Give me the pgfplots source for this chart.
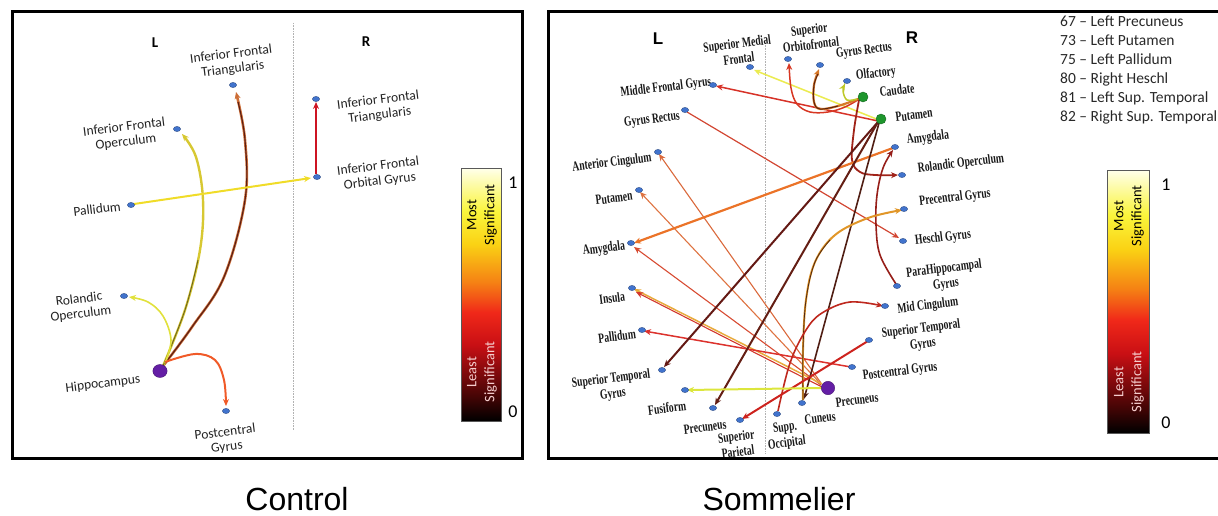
\documentclass[border=0pt]{standalone}
\usepackage{fontspec}
\setmainfont{Carlito}
\newfontfamily\tnr{Liberation Serif}
\newfontfamily\arial{Liberation Sans}
\usepackage{pgfplots}
\pgfplotsset{compat=1.18}
\usetikzlibrary{arrows.meta}
\definecolor{nb}{RGB}{65,115,205}
\definecolor{pur}{RGB}{100,30,165}
\definecolor{grn}{RGB}{30,150,45}
\newcommand{\edge}[3]{\addplot[no marks, smooth, tension=0.6, color={#1}, line width=#2, -{Stealth[length=7pt,width=6pt]}] coordinates {#3};}
\begin{document}
\begin{tikzpicture}
\begin{axis}[at={(0,0)},anchor=south west,width=1218pt,height=516pt,scale only axis,
  xmin=0,xmax=1218,ymin=0,ymax=516,y dir=reverse,hide axis,clip=false,
  colormap={sig}{rgb255(0cm)=(0,0,0); rgb255(1cm)=(70,5,5); rgb255(3cm)=(200,15,20); rgb255(4.3cm)=(240,40,25); rgb255(5.5cm)=(245,130,20); rgb255(7cm)=(250,210,20); rgb255(8.3cm)=(250,245,60); rgb255(10cm)=(255,255,235)},
  point meta min=0, point meta max=1]

% ---------------- colour bars
\addplot[surf, shader=interp, mesh/cols=2, point meta=explicit] coordinates {
(461,421) [0] (501,421) [0]
(461,395.7) [0.1] (501,395.7) [0.1]
(461,370.4) [0.2] (501,370.4) [0.2]
(461,345.1) [0.3] (501,345.1) [0.3]
(461,319.8) [0.4] (501,319.8) [0.4]
(461,294.5) [0.5] (501,294.5) [0.5]
(461,269.2) [0.6] (501,269.2) [0.6]
(461,243.9) [0.7] (501,243.9) [0.7]
(461,218.6) [0.8] (501,218.6) [0.8]
(461,193.3) [0.9] (501,193.3) [0.9]
(461,168) [1] (501,168) [1]
};
\addplot[surf, shader=interp, mesh/cols=2, point meta=explicit] coordinates {
(1107,433) [0] (1149,433) [0]
(1107,406.7) [0.1] (1149,406.7) [0.1]
(1107,380.4) [0.2] (1149,380.4) [0.2]
(1107,354.1) [0.3] (1149,354.1) [0.3]
(1107,327.8) [0.4] (1149,327.8) [0.4]
(1107,301.5) [0.5] (1149,301.5) [0.5]
(1107,275.2) [0.6] (1149,275.2) [0.6]
(1107,248.9) [0.7] (1149,248.9) [0.7]
(1107,222.6) [0.8] (1149,222.6) [0.8]
(1107,196.3) [0.9] (1149,196.3) [0.9]
(1107,170) [1] (1149,170) [1]
};
\draw[gray!70!black, line width=0.8pt] (axis cs:461,168) rectangle (axis cs:501,421);
\draw[gray!70!black, line width=0.8pt] (axis cs:1107,170) rectangle (axis cs:1149,433);
\node[rotate=90, align=center, font=\fontsize{14.5}{18}\selectfont] at (axis cs:482,215) {Most\\Significant};
\node[rotate=90, align=center, text={rgb,255:red,245;green,205;blue,205}, font=\fontsize{14.5}{18}\selectfont] at (axis cs:482,372) {Least\\Significant};
\node[rotate=90, align=center, font=\fontsize{14.5}{18}\selectfont] at (axis cs:1129,216) {Most\\Significant};
\node[rotate=90, align=center, text={rgb,255:red,245;green,205;blue,205}, font=\fontsize{14.5}{18}\selectfont] at (axis cs:1129,382) {Least\\Significant};
\node[font=\fontsize{18}{20}\selectfont] at (axis cs:513,183) {1};
\node[font=\fontsize{18}{20}\selectfont] at (axis cs:513,412) {0};
\node[font=\fontsize{18}{20}\selectfont] at (axis cs:1166,185) {1};
\node[font=\fontsize{18}{20}\selectfont] at (axis cs:1166,423) {0};

% ---------------- divider lines
\draw[gray!60, densely dotted, line width=0.6pt] (axis cs:293,23) -- (axis cs:293,430);
\draw[gray!60, densely dotted, line width=0.6pt] (axis cs:765,43) -- (axis cs:765,453);

% ---------------- Control edges
\edge{rgb,255:red,205;green,110;blue,55}{2.6pt}{(163,366) (192,327) (224,277) (245,200) (245,140) (236,92)}
\addplot[no marks, smooth, tension=0.6, color={rgb,255:red,90;green,30;blue,20}, line width=1.1pt] coordinates {(163,366) (192,327) (224,277) (245,200) (245,140) (238,102)};
\edge{rgb,255:red,215;green,200;blue,50}{2.4pt}{(163,366) (185,310) (200,250) (203,200) (196,157) (182,134)}
\addplot[no marks, smooth, tension=0.6, color={rgb,255:red,110;green,100;blue,30}, line width=0.9pt] coordinates {(163,366) (185,310) (198,260)};
\edge{rgb,255:red,225;green,225;blue,60}{1.6pt}{(165,363) (171,340) (163,316) (148,302) (129,297)}
\edge{rgb,255:red,240;green,90;blue,40}{2pt}{(165,362) (195,354) (215,360) (224,380) (226,406)}
\edge{rgb,255:red,240;green,220;blue,40}{2pt}{(134,204) (311,178)}
\edge{rgb,255:red,205;green,20;blue,35}{2.8pt}{(316,174) (316,102)}

% ---------------- Sommelier edges
\edge{rgb,255:red,218;green,105;blue,60}{1.1pt}{(821,383) (659,154)}
\edge{rgb,255:red,222;green,115;blue,65}{1.1pt}{(821,384) (640,192)}
\edge{rgb,255:red,215;green,75;blue,50}{1.1pt}{(821,385) (634,247)}
\edge{rgb,255:red,232;green,170;blue,60}{1.5pt}{(822,384) (634,289)}
\edge{rgb,255:red,210;green,55;blue,45}{1.1pt}{(822,387) (636,292)}
\edge{rgb,255:red,220;green,50;blue,45}{1.5pt}{(851,367) (644,331)}
\edge{rgb,255:red,210;green,70;blue,50}{1.2pt}{(687,112) (899,238)}
\edge{rgb,255:red,235;green,235;blue,80}{1.5pt}{(879,120) (754,70)}
\edge{rgb,255:red,215;green,50;blue,40}{1.5pt}{(878,121) (716,86)}
\edge{rgb,255:red,215;green,55;blue,35}{1.5pt}{(861,98) (845,107) (828,112) (810,112) (797,104) (791,88) (789,63)}
\edge{rgb,255:red,215;green,120;blue,40}{2.2pt}{(861,98) (838,106) (820,109) (814,102) (814,85) (819,69)}
\addplot[no marks, smooth, tension=0.6, color={rgb,255:red,90;green,35;blue,15}, line width=1pt] coordinates {(838,106) (820,109) (814,102) (814,85) (818,74)};
\edge{rgb,255:red,190;green,200;blue,40}{1.5pt}{(857,99) (847,100) (843,91) (845,84)}
\edge{rgb,255:red,160;green,35;blue,25}{1.8pt}{(859,100) (854,130) (852,160) (860,172) (875,175) (898,175)}
\edge{rgb,255:red,235;green,115;blue,40}{2.2pt}{(893,148) (634,243)}
\edge{rgb,255:red,150;green,30;blue,25}{1.6pt}{(896,284) (880,255) (876,225) (877,195) (883,168) (893,150)}
\edge{rgb,255:red,100;green,25;blue,20}{2pt}{(878,122) (664,367)}
\edge{rgb,255:red,100;green,30;blue,20}{2pt}{(878,122) (715,405)}
\edge{rgb,255:red,80;green,30;blue,20}{1.6pt}{(879,123) (804,399)}
\edge{rgb,255:red,225;green,150;blue,40}{2pt}{(803,400) (803,350) (806,300) (815,262) (835,235) (868,218) (902,210)}
\addplot[no marks, smooth, tension=0.6, color={rgb,255:red,80;green,40;blue,20}, line width=0.8pt] coordinates {(803,400) (803,350) (806,300) (815,262) (830,240)};
\edge{rgb,255:red,190;green,40;blue,30}{1.6pt}{(778,411) (790,363) (806,330) (822,313) (850,302) (883,306)}
\edge{rgb,255:red,205;green,35;blue,30}{2pt}{(868,341) (742,419)}
\edge{rgb,255:red,220;green,230;blue,60}{2pt}{(823,388) (687,390)}

% ---------------- nodes
\addplot[only marks, mark=*, mark size=2.6pt, mark options={xscale=1.4, fill=nb, draw=nb!60!black, line width=0.3pt}] coordinates {
(233,85) (177,129) (131,205) (124,296) (226,411) (316,99) (317,177)
(750,67) (713,85) (685,110) (658,152) (639,190) (631,243) (632,288) (642,330) (662,370) (685,390) (713,408) (740,420) (777,414) (802,403)
(788,59) (820,65) (847,81) (895,147) (902,175) (904,209) (903,241) (897,286) (885,306) (869,340) (852,367)};
\addplot[only marks, mark=*, mark size=6.5pt, mark options={xscale=1.1, fill=pur, draw=pur!70!black}] coordinates {(160,371)};
\addplot[only marks, mark=*, mark size=6.7pt, mark options={fill=pur, draw=pur!70!black}] coordinates {(828,388)};
\addplot[only marks, mark=*, mark size=5pt, mark options={fill=grn, draw=grn!70!black}] coordinates {(863,97) (881,119)};

% ---------------- Control labels
\begin{scope}[every node/.style={font=\fontsize{13.5}{15}\selectfont, align=center, text={rgb,255:red,35;green,35;blue,35}, rotate=7, inner sep=1pt}]
\node at (axis cs:232,62) {Inferior Frontal\\Triangularis};
\node at (axis cs:125,135) {Inferior Frontal\\Operculum};
\node at (axis cs:97,209) {Pallidum};
\node at (axis cs:80,307) {Rolandic\\Operculum};
\node at (axis cs:103,384) {Hippocampus};
\node at (axis cs:226,440) {Postcentral\\Gyrus};
\node at (axis cs:379,108) {Inferior Frontal\\Triangularis};
\node at (axis cs:379,174) {Inferior Frontal\\Orbital Gyrus};
\end{scope}
\node[font=\fontsize{15}{17}\selectfont\bfseries] at (axis cs:155,43) {L};
\node[font=\fontsize{15}{17}\selectfont\bfseries] at (axis cs:366,42) {R};

% ---------------- Sommelier labels
\begin{scope}[every node/.style={font=\tnr\bfseries\fontsize{14}{15.5}\selectfont, align=center, text={rgb,255:red,25;green,25;blue,25}, rotate=7, xscale=0.69, inner sep=1pt}]
\node at (axis cs:738,51) {Superior Medial\\Frontal};
\node at (axis cs:666,88) {Middle Frontal Gyrus};
\node at (axis cs:652,120) {Gyrus Rectus};
\node at (axis cs:612,163) {Anterior Cingulum};
\node at (axis cs:614,198) {Putamen};
\node at (axis cs:604,249) {Amygdala};
\node at (axis cs:612,298) {Insula};
\node at (axis cs:617,336) {Pallidum};
\node at (axis cs:612,387) {Superior Temporal\\Gyrus};
\node at (axis cs:667,408) {Fusiform};
\node at (axis cs:705,427) {Precuneus};
\node at (axis cs:737,444) {Superior\\Parietal};
\node at (axis cs:786,436) {Supp.\\Occipital};
\node at (axis cs:820,418) {Cuneus};
\node at (axis cs:857,400) {Precuneus};
\node at (axis cs:810,37) {Superior\\Orbitofrontal};
\node at (axis cs:864,51) {Gyrus Rectus};
\node at (axis cs:876,74) {Olfactory};
\node at (axis cs:897,90) {Caudate};
\node at (axis cs:914,115) {Putamen};
\node at (axis cs:928,138) {Amygdala};
\node at (axis cs:961,164) {Rolandic Operculum};
\node at (axis cs:955,198) {Precentral Gyrus};
\node at (axis cs:943,238) {Heschl Gyrus};
\node at (axis cs:945,277) {ParaHippocampal\\Gyrus};
\node at (axis cs:928,306) {Mid Cingulum};
\node at (axis cs:922,337) {Superior Temporal\\Gyrus};
\node at (axis cs:900,372) {Postcentral Gyrus};
\end{scope}
\node[font=\arial\bfseries\fontsize{17}{19}\selectfont] at (axis cs:658,39) {L};
\node[font=\arial\bfseries\fontsize{17}{19}\selectfont] at (axis cs:912,38) {R};

% ---------------- legend text
\begin{scope}[every node/.style={font=\fontsize{15.5}{18}\selectfont, anchor=base west, inner sep=0pt, text={rgb,255:red,40;green,40;blue,40}}]
\node at (axis cs:1060,27) {67 – Left Precuneus};
\node at (axis cs:1060,46) {73 – Left Putamen};
\node at (axis cs:1060,65) {75 – Left Pallidum};
\node at (axis cs:1060,84) {80 – Right Heschl};
\node at (axis cs:1060,103) {81 – Left Sup. Temporal};
\node at (axis cs:1060,122) {82 – Right Sup. Temporal};
\end{scope}

% ---------------- frames
\draw[line width=3pt] (axis cs:12,12) rectangle (axis cs:522,458);
\draw[line width=3pt] (axis cs:1225,12) -- (axis cs:548,12) -- (axis cs:548,458) -- (axis cs:1225,458);

% ---------------- captions
\node[font=\arial\fontsize{32}{36}\selectfont] at (axis cs:297,499) {Control};
\node[font=\arial\fontsize{32}{36}\selectfont] at (axis cs:779,499) {Sommelier};
\end{axis}
\pgfresetboundingbox
\useasboundingbox (0,0) rectangle (1218pt,516pt);
\end{tikzpicture}
\end{document}
